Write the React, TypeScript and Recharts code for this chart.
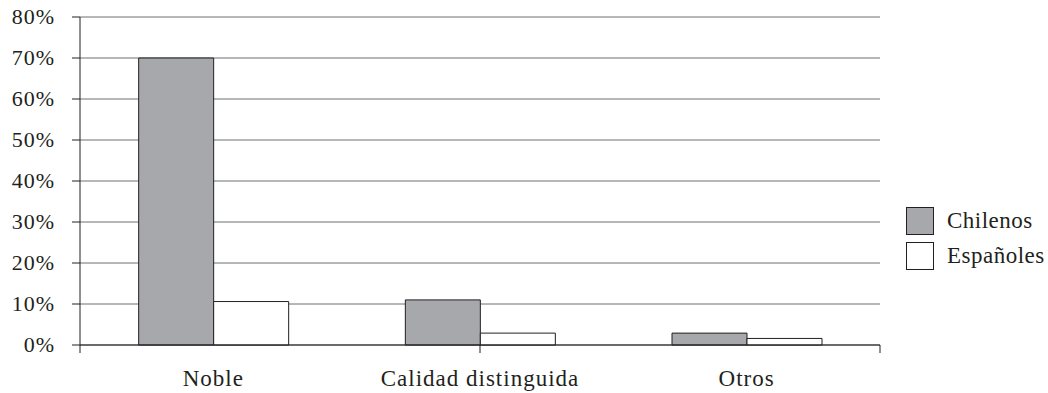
import { Bar, BarChart, CartesianGrid, Legend, ReferenceLine, XAxis, YAxis } from 'recharts';

const categories = ['Noble', 'Calidad distinguida', 'Otros'];
const chilenos = [70, 11, 2.9];
const espanoles = [10.6, 2.9, 1.6];
const yTicks = [0, 10, 20, 30, 40, 50, 60, 70, 80];
const edgeTicks = [0, 1, 2, 3];

const series = [
  { key: 'chilenos', label: 'Chilenos', fill: '#a7a8ab' },
  { key: 'espanoles', label: 'Españoles', fill: '#ffffff' },
];

const data = categories.map((name, i) => ({
  name,
  chilenos: chilenos[i],
  espanoles: espanoles[i],
}));

const FONT = '"Liberation Serif", "DejaVu Serif", serif';
const INK = '#231f20';
const GRID = '#6d6e71';

function CategoryTick({ x, y, payload }: { x?: number; y?: number; payload?: { value: string } }) {
  return (
    <text
      x={x}
      y={(y ?? 0) + 25}
      textAnchor="middle"
      fontFamily={FONT}
      fontSize={23}
      letterSpacing={1}
      fill={INK}
    >
      {payload?.value}
    </text>
  );
}

function ValueTick({ x, y, payload }: { x?: number; y?: number; payload?: { value: number } }) {
  return (
    <text
      x={x}
      y={(y ?? 0) + 7}
      textAnchor="end"
      fontFamily={FONT}
      fontSize={22}
      letterSpacing={1}
      fill={INK}
    >
      {`${payload?.value}%`}
    </text>
  );
}

function LegendBox() {
  return (
    <div style={{ fontFamily: FONT, fontSize: 23, letterSpacing: 0.5, color: INK }}>
      {series.map((s) => (
        <div key={s.key} style={{ display: 'flex', alignItems: 'center', height: 35.5 }}>
          <span
            style={{
              display: 'inline-block',
              width: 26,
              height: 26,
              background: s.fill,
              border: `1px solid ${INK}`,
              marginRight: 13,
            }}
          />
          <span>{s.label}</span>
        </div>
      ))}
    </div>
  );
}

export default function App() {
  return (
    <div style={{ position: 'absolute', left: 0, top: 0, background: '#fff' }}>
      <BarChart
        width={1048}
        height={393}
        data={data}
        margin={{ top: 17, right: 168, left: 0, bottom: 0 }}
        barCategoryGap="22%"
        barGap={0}
      >
        <CartesianGrid xAxisId="a-edges" vertical={false} stroke={GRID} strokeWidth={1} />
        <XAxis
          xAxisId="a-edges"
          type="number"
          domain={[0, 3]}
          ticks={edgeTicks}
          tick={() => <g />}
          height={8}
          tickSize={8}
          axisLine={{ stroke: INK }}
          tickLine={{ stroke: INK }}
        />
        <XAxis
          xAxisId="b-names"
          dataKey="name"
          height={40}
          axisLine={false}
          tickLine={false}
          tick={<CategoryTick />}
          interval={0}
        />
        <YAxis
          domain={[0, 80]}
          ticks={yTicks}
          width={80}
          tickSize={8}
          tickMargin={17}
          axisLine={{ stroke: INK }}
          tickLine={{ stroke: INK }}
          tick={<ValueTick />}
        />
        <ReferenceLine xAxisId="a-edges" x={3} stroke={GRID} />
        <Legend
          layout="horizontal"
          verticalAlign="middle"
          content={<LegendBox />}
          wrapperStyle={{ left: 906, top: 203, width: 142 }}
        />
        {series.map((s) => (
          <Bar
            key={s.key}
            xAxisId="b-names"
            dataKey={s.key}
            name={s.label}
            fill={s.fill}
            stroke={INK}
            strokeWidth={1}
            isAnimationActive={false}
          />
        ))}
      </BarChart>
    </div>
  );
}
